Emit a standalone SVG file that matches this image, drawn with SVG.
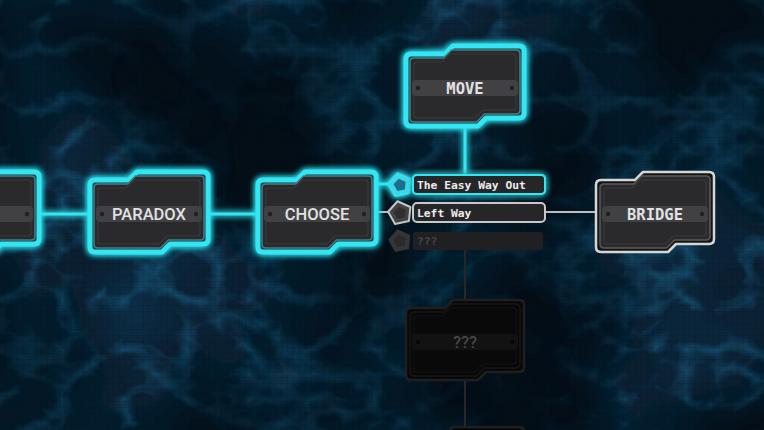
<svg xmlns="http://www.w3.org/2000/svg" width="764" height="430" viewBox="0 0 764 430">
<defs>
<style>
.ring-c{fill:#123a41;stroke:#31e7f3;stroke-width:5;stroke-linejoin:round}
.in-c{fill:#2a2a2c;stroke:#477f86;stroke-width:1.5}
.ring-w{fill:#151515;stroke:#d6d6d6;stroke-width:2.5;stroke-linejoin:round}
.in-w{fill:#2a2a2c;stroke:#595959;stroke-width:1.5}
.ring-d{fill:#080808;stroke:#1f1f1f;stroke-width:2.5;stroke-linejoin:round}
.in-d{fill:#090909;stroke:#161616;stroke-width:1.5}
.panel{fill:none;stroke:#3a3a3c;stroke-width:1.2}
.panel-d{fill:none;stroke:#131313;stroke-width:1.2}
.band{fill:#414144}
.band-d{fill:#121212}
.dot{fill:#202020}
.dot-d{fill:#070707}
.t-sans{font-family:Roboto,"Liberation Sans",sans-serif;font-weight:500;font-size:16.5px;fill:#e2e2e2;text-anchor:middle}
.t-mono{font-family:"DejaVu Sans Mono","Liberation Mono",monospace;font-weight:bold;font-size:15.5px;fill:#e2e2e2;text-anchor:middle}
.t-lab{font-family:"DejaVu Sans Mono","Liberation Mono",monospace;font-weight:bold;font-size:11.3px;fill:#ececec}
.c-cyan{stroke:#33e6f2;stroke-width:3;fill:none}
.c-gray{stroke:#bdbdbd;stroke-width:2;fill:none}
.c-dark{stroke:#272727;stroke-width:2;fill:none}
</style>
<path id="shape" d="M -54,-34 H -20 L -12,-42 H 54 Q 59,-42 59,-37 V 25 Q 59,30 54,30 H 21 L 13,38 H -54 Q -59,38 -59,33 V -29 Q -59,-34 -54,-34 Z"/>
<path id="shapeIn" d="M -51,-30 H -21.5 L -13.5,-38 H 51 Q 55,-38 55,-34 V 22 Q 55,26 51,26 H 19.5 L 11.5,34 H -51 Q -55,34 -55,30 V -26 Q -55,-30 -51,-30 Z"/>
<path id="panel" d="M -48,-26 H -23 L -15,-34 H 48 Q 51,-34 51,-31 V 19 Q 51,22 48,22 H 18 L 10,30 H -48 Q -51,30 -51,27 V -23 Q -51,-26 -48,-26 Z"/>
<polygon id="pent" points="0,-12 11.4,-3.7 7.1,9.7 -7.1,9.7 -11.4,-3.7"/>
<polygon id="pentIn" points="0,-6.5 6.2,-2 3.8,5.3 -3.8,5.3 -6.2,-2"/>
<filter id="glow" x="-30%" y="-30%" width="160%" height="160%">
<feGaussianBlur in="SourceGraphic" stdDeviation="3" result="b"/>
<feMerge><feMergeNode in="b"/><feMergeNode in="b"/><feMergeNode in="SourceGraphic"/></feMerge>
</filter>
<filter id="veins" x="0" y="0" width="764" height="430" filterUnits="userSpaceOnUse">
<feTurbulence type="turbulence" baseFrequency="0.016 0.02" numOctaves="3" seed="11" result="n"/>
<feColorMatrix in="n" type="matrix" values="0 0 0 0 0 0 0 0 0 0 0 0 0 0 0 -3 0 0 0 1" result="r"/>
<feGaussianBlur in="r" stdDeviation="0.6" result="rb"/>
<feTurbulence type="fractalNoise" baseFrequency="0.005" numOctaves="2" seed="3" result="m"/>
<feColorMatrix in="m" type="matrix" values="0 0 0 0 0 0 0 0 0 0 0 0 0 0 0 2.2 0 0 0 -0.62" result="ma"/>
<feComposite in="rb" in2="ma" operator="in" result="rv"/>
<feFlood flood-color="#1d6a92"/>
<feComposite in2="rv" operator="in"/>
</filter>
<filter id="clouds" x="0" y="0" width="764" height="430" filterUnits="userSpaceOnUse">
<feTurbulence type="fractalNoise" baseFrequency="0.005" numOctaves="3" seed="3" result="m"/>
<feColorMatrix in="m" type="matrix" values="0 0 0 0 0 0 0 0 0 0 0 0 0 0 0 1.8 0 0 0 -0.6" result="ma"/>
<feFlood flood-color="#0c3450"/>
<feComposite in2="ma" operator="in"/>
</filter>
<pattern id="grid" width="6" height="6" patternUnits="userSpaceOnUse">
<path d="M 6,0 V 6 H 0" fill="none" stroke="#000" stroke-opacity="0.15" stroke-width="1"/>
</pattern>
</defs>

<g id="background">
<rect width="764" height="430" fill="#040e17"/>
<rect width="764" height="430" filter="url(#clouds)" opacity="0.8"/>
<rect width="764" height="430" filter="url(#veins)" opacity="0.55"/>
<rect width="764" height="430" fill="url(#grid)"/>
</g>

<g id="connectors">
<g filter="url(#glow)">
<line class="c-cyan" x1="38" y1="214" x2="89" y2="214"/>
<line class="c-cyan" x1="208" y1="214" x2="258" y2="214"/>
<line class="c-cyan" x1="465" y1="127" x2="465" y2="175"/>
<line class="c-cyan" x1="377" y1="184" x2="390" y2="184"/>
</g>
<line class="c-gray" x1="377" y1="212" x2="390" y2="212"/>
<line class="c-gray" x1="545" y1="212" x2="597" y2="212"/>
<line class="c-dark" x1="465" y1="250" x2="465" y2="301"/>
<line class="c-dark" x1="465" y1="379" x2="465" y2="428"/>
</g>

<g id="node-left" transform="translate(-20,214)">
<use href="#shape" class="ring-c" filter="url(#glow)"/>
<use href="#shapeIn" class="in-c"/>
<use href="#panel" class="panel"/>
<rect class="band" x="-53" y="-8" width="106" height="16" rx="4"/>
<circle class="dot" cx="47" cy="0" r="2.2"/>
</g>

<g id="node-paradox" transform="translate(149,214)">
<use href="#shape" class="ring-c" filter="url(#glow)"/>
<use href="#shapeIn" class="in-c"/>
<use href="#panel" class="panel"/>
<rect class="band" x="-53" y="-8" width="106" height="16" rx="4"/>
<circle class="dot" cx="-47" cy="0" r="2.2"/>
<circle class="dot" cx="47" cy="0" r="2.2"/>
<text class="t-sans" x="0" y="6">PARADOX</text>
</g>

<g id="node-choose" transform="translate(317,214)">
<use href="#shape" class="ring-c" filter="url(#glow)"/>
<use href="#shapeIn" class="in-c"/>
<use href="#panel" class="panel"/>
<rect class="band" x="-53" y="-8" width="106" height="16" rx="4"/>
<circle class="dot" cx="-47" cy="0" r="2.2"/>
<circle class="dot" cx="47" cy="0" r="2.2"/>
<text class="t-sans" x="0" y="6">CHOOSE</text>
</g>

<g id="node-move" transform="translate(465,88)">
<use href="#shape" class="ring-c" filter="url(#glow)"/>
<use href="#shapeIn" class="in-c"/>
<use href="#panel" class="panel"/>
<rect class="band" x="-53" y="-8" width="106" height="16" rx="4"/>
<circle class="dot" cx="-47" cy="0" r="2.2"/>
<circle class="dot" cx="47" cy="0" r="2.2"/>
<text class="t-mono" x="0" y="6">MOVE</text>
</g>

<g id="node-bridge" transform="translate(655,214)">
<use href="#shape" class="ring-w"/>
<use href="#shapeIn" class="in-w"/>
<use href="#panel" class="panel"/>
<rect class="band" x="-53" y="-8" width="106" height="16" rx="4"/>
<circle class="dot" cx="-47" cy="0" r="2.2"/>
<circle class="dot" cx="47" cy="0" r="2.2"/>
<text class="t-mono" x="0" y="6">BRIDGE</text>
</g>

<g id="node-unknown" transform="translate(465,342)">
<use href="#shape" class="ring-d"/>
<use href="#shapeIn" class="in-d"/>
<use href="#panel" class="panel-d"/>
<rect class="band-d" x="-53" y="-8" width="106" height="16" rx="4"/>
<circle class="dot-d" cx="-47" cy="0" r="2.2"/>
<circle class="dot-d" cx="47" cy="0" r="2.2"/>
<text class="t-sans" x="0" y="6" style="fill:#474747">???</text>
</g>

<g id="node-bottom" transform="translate(465,469)">
<use href="#shape" class="ring-d"/>
<use href="#shapeIn" class="in-d"/>
</g>

<g id="choice-easy">
<g transform="translate(400,185) rotate(-12)">
<use href="#pent" fill="#3fd6ea" stroke="#33e6f2" stroke-width="2" stroke-linejoin="round" filter="url(#glow)"/>
<use href="#pentIn" fill="#1c6f8c"/>
</g>
<rect x="413" y="175" width="132" height="19" rx="4" fill="#262628" stroke="#33e6f2" stroke-width="2" filter="url(#glow)"/>
<rect x="413" y="175" width="132" height="19" rx="4" fill="#262628" stroke="#33e6f2" stroke-width="2"/>
<text class="t-lab" x="417" y="188.5">The Easy Way Out</text>
</g>

<g id="choice-left">
<g transform="translate(400,213) rotate(-12)">
<use href="#pent" fill="#434345" stroke="#c4c4c4" stroke-width="2" stroke-linejoin="round"/>
<use href="#pentIn" fill="#2f2f31"/>
</g>
<rect x="413" y="203" width="132" height="19" rx="4" fill="#262628" stroke="#c8c8c8" stroke-width="2"/>
<text class="t-lab" x="417" y="216.5">Left Way</text>
</g>

<g id="choice-unknown">
<g transform="translate(400,241) rotate(-12)">
<use href="#pent" fill="#353537"/>
<use href="#pentIn" fill="#2a2a2c"/>
</g>
<rect x="413" y="232" width="130" height="18" rx="3" fill="#202022"/>
<text class="t-lab" x="417" y="245" style="fill:#444446">???</text>
</g>
</svg>
